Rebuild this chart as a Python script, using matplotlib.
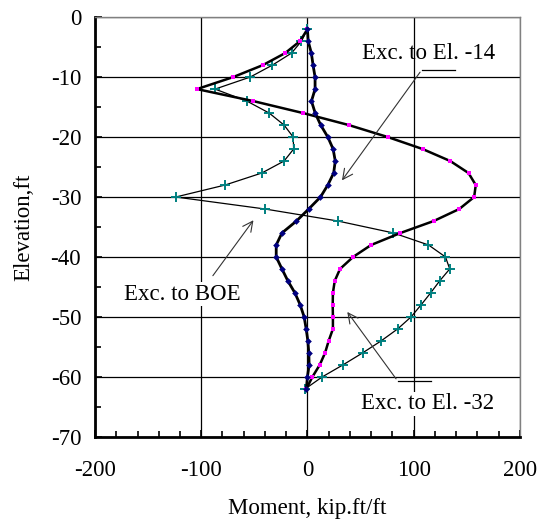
import matplotlib
matplotlib.use("Agg")
import matplotlib.pyplot as plt
from matplotlib.ticker import MultipleLocator

plt.rcParams['font.family'] = ['Liberation Serif', 'DejaVu Serif']
plt.rcParams['axes.unicode_minus'] = False

elevation = [-2, -4, -6, -8, -10, -12, -14, -16, -18, -20, -22, -24, -26, -28, -30,
             -32, -34, -36, -38, -40, -42, -44, -46, -48, -50, -52, -54, -56, -58, -60, -62]

exc_el14 = [0, 0.7, 3.7, 5.3, 7.2, 7.2, 3.8, 7.3, 12.5, 19.2, 24.2, 26.2, 24.7, 19.2, 12.3,
            1.2, -10.3, -24, -29.4, -29.4, -24, -18.4, -11.8, -6.8, -3.1, -1.2, 0.4, 1.3, 1.6, 0, -1]

exc_el32 = [0, -7, -21, -42, -70, -104, -51, -4, 39, 75.7, 108.5, 134.5, 151.7, 158.5, 157,
            143, 119, 87.6, 60, 43, 30.7, 25.7, 24, 23.8, 24, 24, 20, 16.6, 11.6, 4.7, -1]

exc_boe = [0, -5.6, -15, -33, -54, -87, -57, -36, -22, -13.4, -13, -22, -43, -77.5, -124,
           -40, 28.5, 81, 114, 130, 134, 124.5, 116, 107, 97.6, 85, 69.4, 52, 33.5, 14, -2]

FS = 16.5

fig = plt.figure(figsize=(5.37, 5.20), dpi=100)
ax = fig.add_axes([0.177, 0.160, 0.791, 0.807])

ax.plot(exc_boe, elevation, color='black', lw=0.9, marker='+', ms=7, mew=1.4,
        mec='#008080', zorder=3)
ax.plot(exc_el32, elevation, color='black', lw=1.8, marker='s', ms=3, mew=0,
        mfc='#FF00FF', zorder=4)
ax.plot(exc_el14, elevation, color='black', lw=2.0, marker='D', ms=3.4, mew=0,
        mfc='#000080', zorder=5)

ax.set_xlim(-200, 200)
ax.set_ylim(-70, 0)
ax.xaxis.set_major_locator(MultipleLocator(100))
ax.xaxis.set_minor_locator(MultipleLocator(20))
ax.yaxis.set_major_locator(MultipleLocator(10))
ax.yaxis.set_minor_locator(MultipleLocator(5))
ax.grid(True, which='major', color='black', lw=0.9, zorder=1)
ax.set_axisbelow(True)

ax.tick_params(axis='both', which='both', direction='in', labelsize=FS, width=1.2)
ax.tick_params(axis='both', which='major', length=5)
ax.tick_params(axis='both', which='minor', length=4)
ax.tick_params(axis='x', which='major', pad=17)
ax.tick_params(axis='y', which='major', pad=10)

for s in ['left', 'bottom']:
    ax.spines[s].set_linewidth(2.0)
    ax.spines[s].set_color('black')
for s in ['top', 'right']:
    ax.spines[s].set_linewidth(1.0)
    ax.spines[s].set_color('#808080')

ax.set_xlabel('Moment, kip.ft/ft', fontsize=FS, labelpad=12)
ax.set_ylabel('Elevation,ft', fontsize=FS, labelpad=12)

arrow = dict(arrowstyle='->', color='#333333', lw=0.8, mutation_scale=18)

# Exc. to El. -14
ax.text(114, -6.1, 'Exc. to El. -14', fontsize=FS, ha='center', va='center', zorder=6)
ax.plot([107.6, 139], [-8.8, -8.8], color='black', lw=0.9, zorder=6)
ax.annotate('', xy=(31, -27.6), xytext=(107.6, -8.8), arrowprops=arrow, zorder=6)

# Exc. to BOE
ax.text(-117.6, -46.2, 'Exc. to BOE', fontsize=FS, ha='center', va='center', zorder=6,
        bbox=dict(facecolor='white', edgecolor='none', pad=1))
ax.annotate('', xy=(-49.3, -33.5), xytext=(-90.6, -43.5), arrowprops=arrow, zorder=6)

# Exc. to El. -32
ax.text(112.8, -64.5, 'Exc. to El. -32', fontsize=FS, ha='center', va='center', zorder=6,
        bbox=dict(facecolor='white', edgecolor='none', pad=1))
ax.plot([85, 116.3], [-60.7, -60.7], color='black', lw=0.9, zorder=6)
ax.annotate('', xy=(36, -48.8), xytext=(85, -60.7), arrowprops=arrow, zorder=6)

fig.savefig('out.png', dpi=100)
